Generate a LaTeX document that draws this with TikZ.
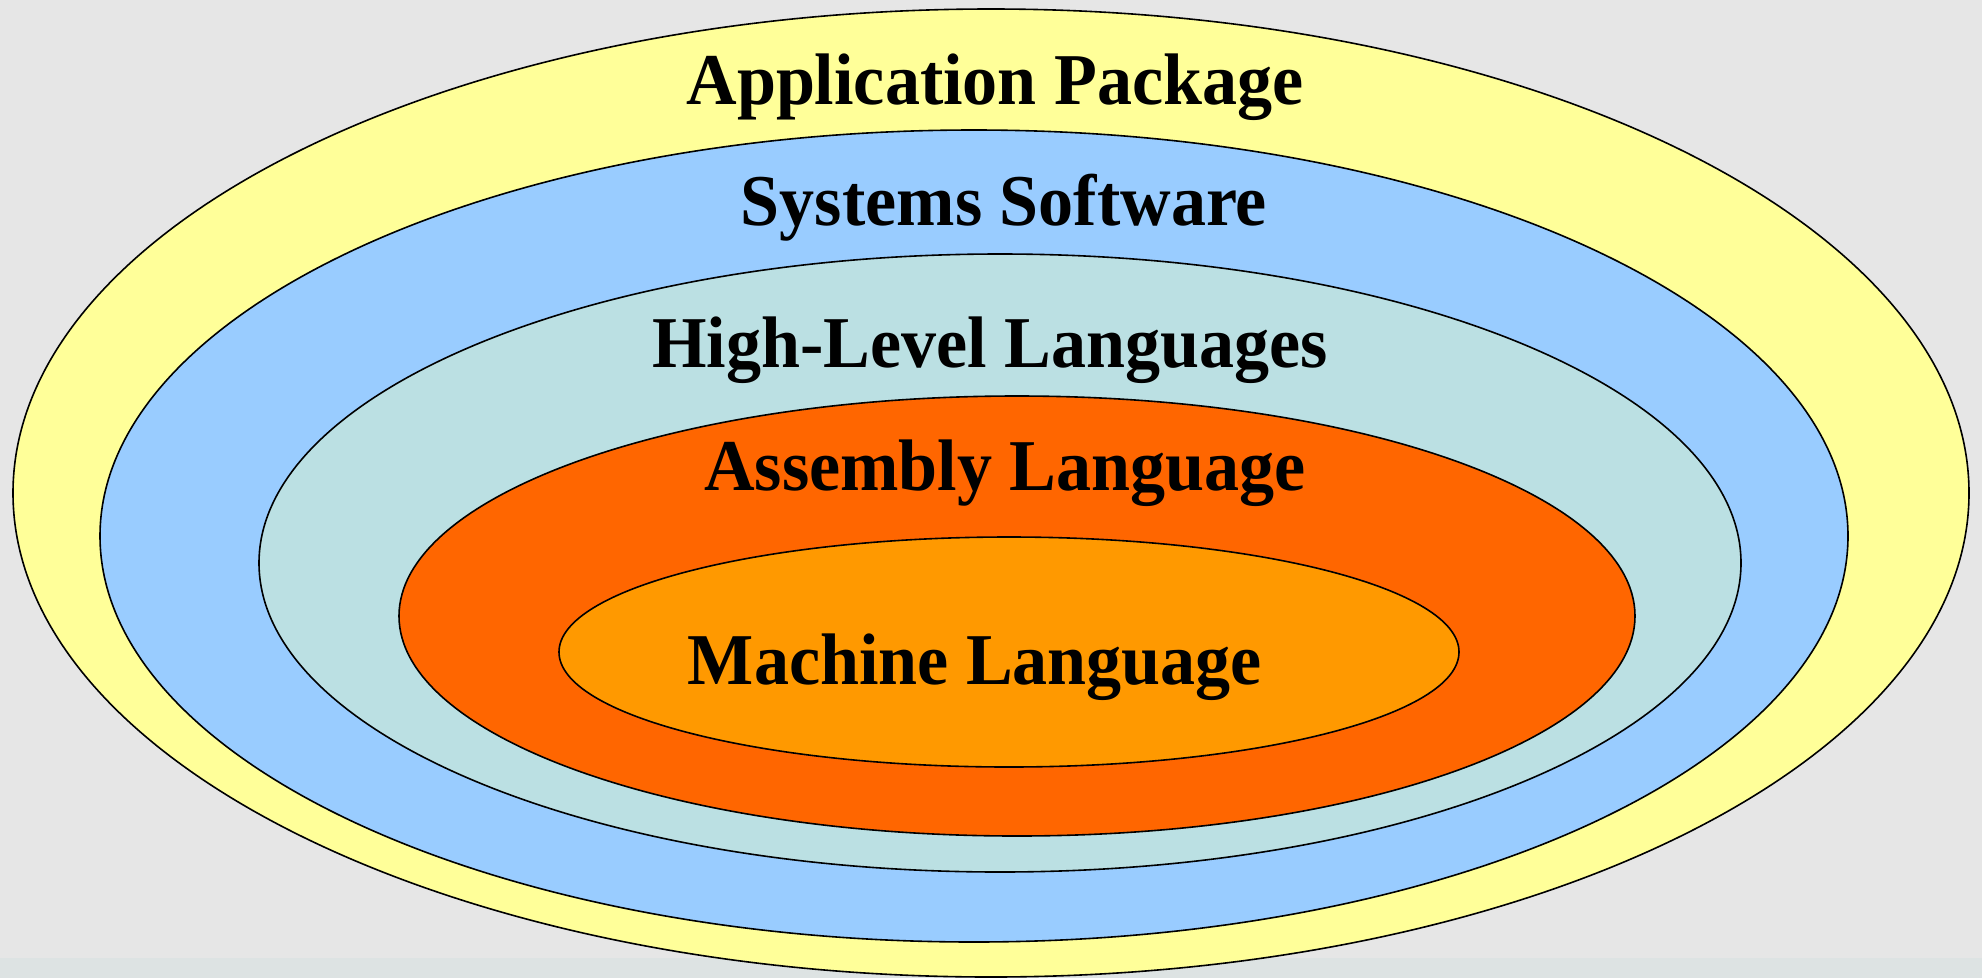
\documentclass[tikz,border=0pt]{standalone}
\usepackage{fontspec}
\setmainfont{Liberation Serif}[FakeStretch=0.96]
\definecolor{bgray}{HTML}{E6E6E6}
\definecolor{bstrip}{HTML}{DDE3E3}
\definecolor{cyellow}{HTML}{FFFF99}
\definecolor{cblue}{HTML}{99CCFF}
\definecolor{ccyan}{HTML}{BBE0E3}
\definecolor{cred}{HTML}{FF6600}
\definecolor{corange}{HTML}{FF9900}
\tikzset{
  layer/.style={draw=black, line width=1.6pt},
  lbl/.style={anchor=base, inner sep=0pt, font=\fontsize{73}{80}\selectfont\bfseries}
}
\begin{document}
\begin{tikzpicture}[x=1pt, y=-1pt]
\fill[bgray] (0,0) rectangle (1982,978);
\fill[bstrip] (0,958) rectangle (1982,978);
\useasboundingbox (0,0) rectangle (1982,978);

\filldraw[layer, fill=cyellow] (991,493) ellipse [x radius=978pt, y radius=484pt];
\filldraw[layer, fill=cblue]   (974,536) ellipse [x radius=874pt, y radius=406pt];
\filldraw[layer, fill=ccyan]   (1000,563) ellipse [x radius=741pt, y radius=309pt];
\filldraw[layer, fill=cred]    (1017,616) ellipse [x radius=618pt, y radius=220pt];
\filldraw[layer, fill=corange] (1009,652) ellipse [x radius=450pt, y radius=115pt];

\node[lbl] (L1) at (995,104) {Application Package};
\node[lbl] (L2) at (1004,225) {Systems Software};
\node[lbl] (L3) at (990,367) {High-Level Languages};
\node[lbl] (L4) at (1005,490) {Assembly Language};
\node[lbl] (L5) at (975,684) {Machine Language};
\end{tikzpicture}
\end{document}
